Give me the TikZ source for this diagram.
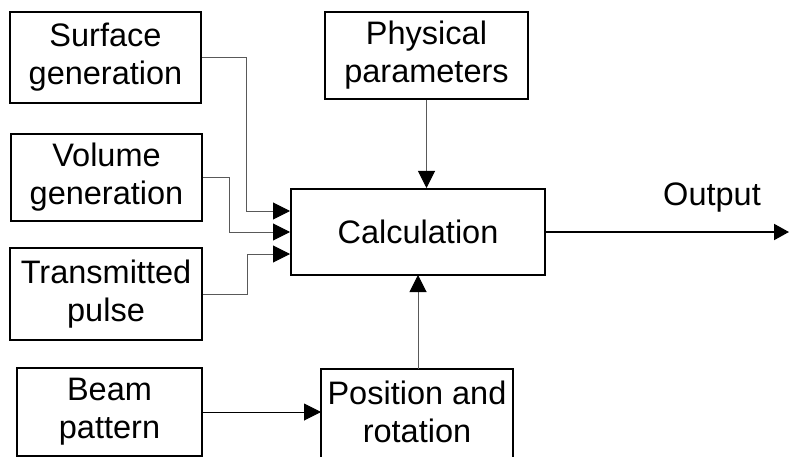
\documentclass[tikz,border=0pt]{standalone}
\usepackage{fontspec}
\setmainfont{Liberation Sans}
\usetikzlibrary{arrows.meta}
\begin{document}
\begin{tikzpicture}[x=1pt,y=-1pt,
  blk/.style={draw=black,line width=2pt,align=center,inner sep=0pt,
    font=\fontsize{32.5}{38}\selectfont},
  conn/.style={draw=black!65,line width=1pt},
  tip/.style={-{Triangle[length=17pt,width=17pt,color=black]}}
]
\useasboundingbox (0,0) rectangle (789,457);
\fill[white] (0,0) rectangle (789,457);
\node[blk,minimum width=191pt,minimum height=91pt] (surf) at (105.5,57.5) {Surface\\generation};
\node[blk,minimum width=191pt,minimum height=87pt] (vol) at (106.5,177.5) {Volume\\generation};
\node[blk,minimum width=192pt,minimum height=92pt] (trans) at (106,294) {Transmitted\\pulse};
\node[blk,minimum width=203pt,minimum height=87pt] (phys) at (426.5,55.5) {Physical\\parameters};
\node[blk,minimum width=254pt,minimum height=86pt] (calc) at (418,232) {Calculation};
\node[blk,minimum width=185pt,minimum height=88pt] (beam) at (109.5,412) {Beam\\pattern};
\node[blk,draw=none,minimum width=192pt,minimum height=86pt] (pos) at (417,412) {Position and\\rotation};
\draw[line width=2pt] (321,470) -- (321,369) -- (513,369) -- (513,470);
\coordinate (s1) at (246,211);
\coordinate (v1) at (229,232);
\coordinate (t1) at (247,254);
\draw[conn,tip] (surf.east) -| (s1) -- (s1 -| calc.west);
\draw[conn,tip] (vol.east) -| (v1) -- (v1 -| calc.west);
\draw[conn,tip] (trans.east) -| (t1) -- (t1 -| calc.west);
\draw[conn,tip] (phys.south) -- (phys.south |- calc.north);
\draw[conn,tip] (418,369) -- (418,275);
\draw[line width=1pt,draw=black,tip] (beam.east) -- (321,412);
\coordinate (out) at (789,232);
\draw[line width=2pt,-{Triangle[length=15pt,width=16pt]}] (calc.east) -- (out);
\node[font=\fontsize{32.5}{38}\selectfont,anchor=base] (outlbl) at (712,205) {Output};
\end{tikzpicture}
\end{document}
